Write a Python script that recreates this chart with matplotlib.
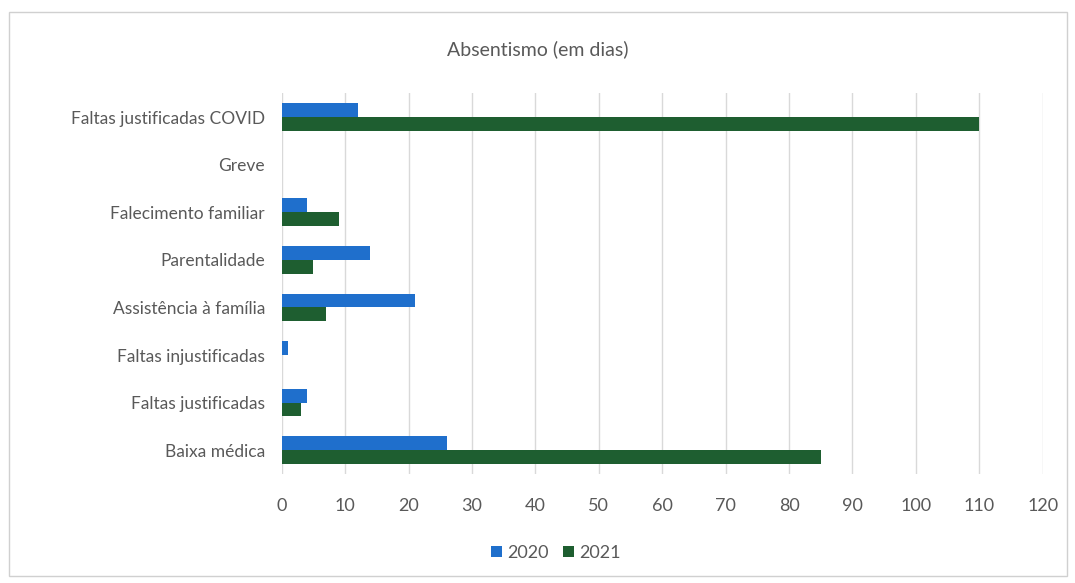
import numpy as np
import matplotlib.pyplot as plt

categories = ['Baixa médica', 'Faltas justificadas', 'Faltas injustificadas',
              'Assistência à família', 'Parentalidade', 'Falecimento familiar',
              'Greve', 'Faltas justificadas COVID']
vals_2020 = [26, 4, 1, 21, 14, 4, 0, 12]
vals_2021 = [85, 3, 0, 7, 5, 9, 0, 110]
xticks = list(range(0, 121, 10))

plt.rcParams['font.family'] = ['Lato', 'DejaVu Sans']
grey = '#595959'

fig = plt.figure(figsize=(10.75, 5.83), dpi=100)
ax = fig.add_axes([0.262, 0.187, 0.708, 0.653])

y = np.arange(len(categories))
h = 0.29
ax.barh(y + h / 2, vals_2020, height=h, color='#1f6fcc', label='2020')
ax.barh(y - h / 2, vals_2021, height=h, color='#1e5e30', label='2021')

ax.set_yticks(y)
ax.set_yticklabels(categories, fontsize=12.5, color=grey)
ax.set_ylim(-0.5, len(categories) - 0.5)
ax.set_xlim(0, 120)
ax.set_xticks(xticks)
ax.set_xticklabels([str(t) for t in xticks], fontsize=13, color=grey)
ax.tick_params(length=0)
ax.tick_params(axis='y', pad=12)
ax.tick_params(axis='x', pad=17)
ax.grid(axis='x', color='#d9d9d9', linewidth=1)
ax.set_axisbelow(True)
for s in ax.spines.values():
    s.set_visible(False)

fig.text(0.5, 0.915, 'Absentismo (em dias)', ha='center', va='center',
         fontsize=14, color=grey)
fig.legend(loc='center', bbox_to_anchor=(0.517, 0.052), ncol=2, frameon=False,
           fontsize=13, handlelength=0.6, handleheight=0.6,
           handletextpad=0.3, columnspacing=0.8, labelcolor=grey)

fig.patches.append(plt.Rectangle((0.008, 0.012), 0.985, 0.968, transform=fig.transFigure,
                                 fill=False, edgecolor='#d0d0d0', linewidth=1))

fig.savefig('out.png', dpi=100)
